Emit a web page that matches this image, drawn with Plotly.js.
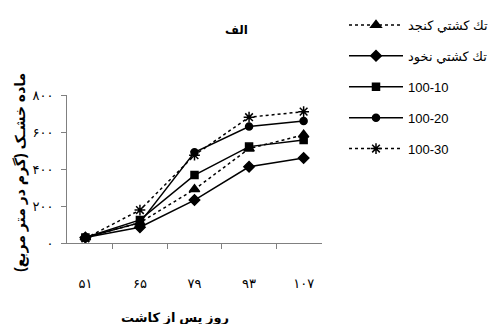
<!DOCTYPE html>
<html><head><meta charset="utf-8">
<script src="https://cdn.plot.ly/plotly-3.0.1.min.js"></script>
<style>body{margin:0;background:#fff}#c{width:493px;height:324px}</style>
</head><body><div id="c"></div>
<script>
const days = ['۵۱','۶۵','۷۹','۹۳','۱۰۷'];
const sesame = [30, 110, 290, 510, 585];     // تك كشتي كنجد
const chickpea = [30, 85, 232, 412, 460];    // تك كشتي نخود
const r10 = [30, 125, 367, 521, 557];        // 100-10
const r20 = [30, 110, 490, 630, 660];        // 100-20
const r30 = [25, 178, 475, 680, 710];        // 100-30
const yTickVals = [0, 200, 400, 600, 800];
const yTickText = ['۰', '۲۰۰', '۴۰۰', '۶۰۰', '۸۰۰'];
const names = ['تك كشتي كنجد', 'تك كشتي نخود', '100-10', '100-20', '100-30'];

const F = 'Liberation Sans, Arial, DejaVu Sans, sans-serif';
function tr(y, name, sym, size, dash, g) {
  return {x: days, y: y, name: name, type: 'scatter', mode: 'lines+markers',
    legendgroup: g,
    line: {color: '#000', width: 1.5, dash: dash},
    marker: {symbol: sym, size: size, color: '#000', line: {color: '#000', width: 1.5}}};
}
const data = [
  tr(sesame, names[0], 'triangle-up', 9, 'dot', 'a'),
  tr(chickpea, names[1], 'diamond', 8, 'solid', 'b'),
  tr(r10, names[2], 'square', 7, 'solid', 'c'),
  tr(r20, names[3], 'circle', 7, 'solid', 'd'),
  tr(r30, names[4], 'asterisk-open', 9, 'dot', 'e')
];
const layout = {
  width: 493, height: 324,
  margin: {l: 67, r: 171, t: 95, b: 81, autoexpand: false},
  paper_bgcolor: '#fff', plot_bgcolor: '#fff',
  font: {family: F, color: '#000', size: 12},
  showlegend: true,
  legend: {x: (344-67)/255, xanchor: 'left', y: (243-10)/148, yanchor: 'top',
    font: {family: F, size: 13, color: '#000'}, tracegroupgap: 11,
    itemwidth: 54, bgcolor: 'rgba(0,0,0,0)'},
  xaxis: {type: 'category', showline: true, linecolor: '#808080', linewidth: 1,
    ticks: 'outside', tickson: 'boundaries', ticklen: 5, tickcolor: '#808080',
    showgrid: false, zeroline: false, ticklabelstandoff: 28,
    tickfont: {family: F, size: 13}},
  yaxis: {range: [0, 800], tickmode: 'array', tickvals: yTickVals, ticktext: yTickText,
    showline: true, linecolor: '#808080', linewidth: 1, ticks: 'outside',
    ticklen: 5, tickcolor: '#808080', showgrid: false, zeroline: false,
    showticklabels: true, ticklabelstandoff: 5, tickfont: {family: F, size: 13}},
  annotations: [
    {text: '<b>الف</b>', xref: 'paper', yref: 'paper', x: (236-67)/255, y: (243-30)/148,
      xanchor: 'center', yanchor: 'middle', showarrow: false, font: {family: F, size: 12}},
    {text: '<b>روز پس از کاشت</b>', xref: 'paper', yref: 'paper', x: (175-67)/255, y: (243-317)/148,
      xanchor: 'center', yanchor: 'middle', showarrow: false, font: {family: F, size: 13}},
    {text: '<b>ماده خشـک (گرم در متر مربع)</b>', xref: 'paper', yref: 'paper', x: (20-67)/255, y: (243-173)/148,
      xanchor: 'center', yanchor: 'middle', textangle: -90, showarrow: false, font: {family: F, size: 14}}
  ]
};
Plotly.newPlot('c', data, layout, {staticPlot: true});
</script></body></html>
